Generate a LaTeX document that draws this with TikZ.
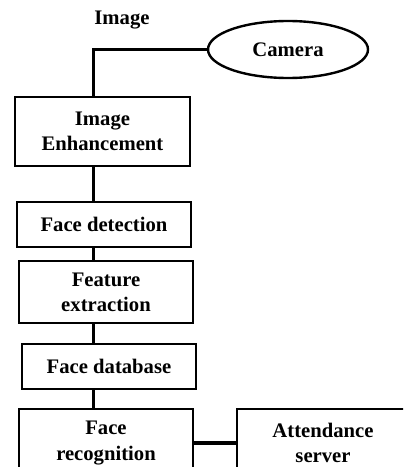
\documentclass[tikz,border=0pt]{standalone}
\usepackage{fontspec}
\setmainfont{Liberation Serif}
\usetikzlibrary{shapes.geometric}
\begin{document}
\begin{tikzpicture}[x=0.75pt,y=-0.75pt,
  lbl/.style={font=\fontsize{15.5}{19}\selectfont\bfseries},
  stage/.style={lbl,draw,line width=1.8pt,rectangle,align=center,inner sep=0pt},
  link/.style={line width=2.6pt}]
  \path[use as bounding box] (0,0) rectangle (403,467);
  \clip (0,0) rectangle (403,467);

  % spine of the pipeline
  \coordinate (spine) at (93.5,0);

  \node[lbl] (imglbl) at (122,20) {Image};
  \node[lbl,draw,line width=1.8pt,ellipse,minimum width=120pt,minimum height=42.75pt,
        inner sep=0pt] (camera) at (288,49.5) {Camera};

  \node[stage,minimum width=131.25pt,minimum height=51.75pt] (enh) at (102.5,131.5) {Image\\Enhancement};
  \node[stage,minimum width=130.5pt,minimum height=33.75pt] (det) at (104,224.5) {Face detection};
  \node[stage,minimum width=130.5pt,minimum height=46.5pt] (feat) at (106,292) {Feature\\extraction};
  \node[stage,minimum width=130.5pt,minimum height=33.75pt] (db) at (109,366.5) {Face database};
  \node[stage,minimum width=130.5pt,minimum height=51pt] (rec) at (106,443) {Face\\recognition};
  \node[stage,minimum width=129pt,minimum height=51pt] (att) at (323,443) {Attendance\\server};

  \draw[link] (camera.west) -| (spine |- enh.north);
  \draw[link] (spine |- enh.south) -- (spine |- det.north);
  \draw[link] (spine |- det.south) -- (spine |- feat.north);
  \draw[link] (spine |- feat.south) -- (spine |- db.north);
  \draw[link] (spine |- db.south) -- (spine |- rec.north);
  \draw[link] (rec.east) -- (att.west);
\end{tikzpicture}
\end{document}
